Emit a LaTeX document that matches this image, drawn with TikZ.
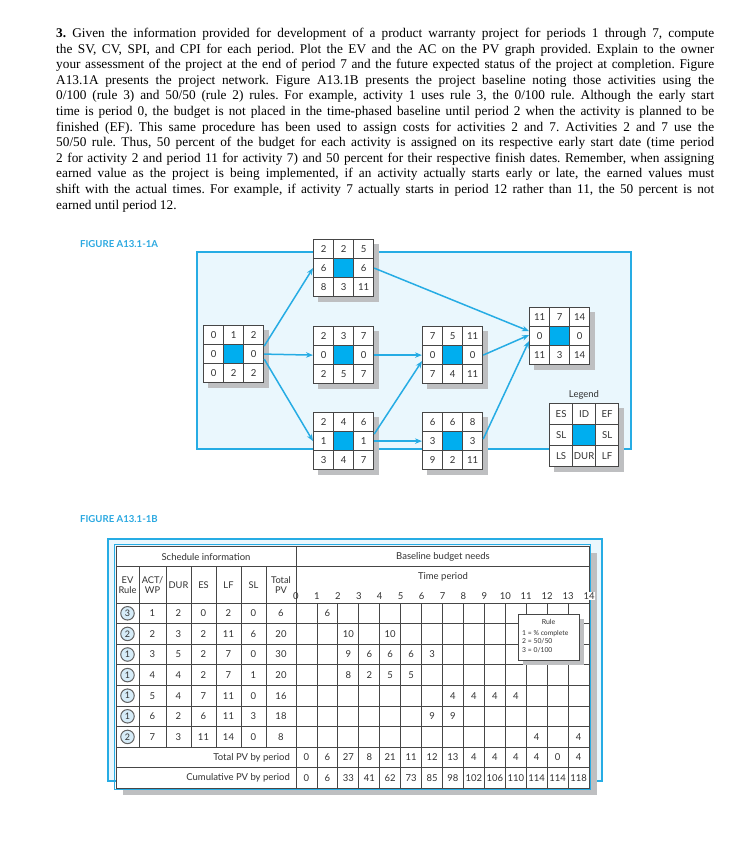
\documentclass[tikz,border=0pt]{standalone}
\usepackage{fontspec}
\setmainfont{Liberation Serif}
\newfontfamily\dg{Lato}
\usetikzlibrary{matrix,arrows.meta}
\definecolor{lblue}{RGB}{38,172,228}
\definecolor{pfill}{RGB}{234,247,253}
\definecolor{cblue}{RGB}{0,174,239}
\definecolor{shadowc}{RGB}{190,191,193}
\definecolor{gridc}{RGB}{70,70,70}
\definecolor{txt}{RGB}{50,50,50}
\definecolor{figc}{RGB}{42,168,224}
\definecolor{circfill}{RGB}{214,236,248}
\pgfdeclarelayer{back}
\pgfdeclarelayer{shade}
\pgfsetlayers{back,shade,main}
\newcommand\jl[1]{\hbox to 658pt{#1}}
\newcommand\netbox[6]{%
  \matrix (#1) [netbox] at (#2,#3) {#4\\#5\\#6\\};
  \begin{pgfonlayer}{shade}
    \fill[shadowc] ([shift={(5,5)}]#1.north west) rectangle ([shift={(5,5)}]#1.south east);
  \end{pgfonlayer}}
\begin{document}
\begin{tikzpicture}[x=1pt,y=-1pt,
  cell/.style={draw=gridc, line width=0.8pt, minimum width=20pt, minimum height=19pt,
    inner sep=0pt, fill=white, text=txt, anchor=center, font=\dg\fontsize{9.6}{10}\selectfont},
  lcell/.style={minimum width=23pt, minimum height=21pt},
  netbox/.style={matrix of nodes, inner sep=0pt, column sep=-0.8pt, row sep=-0.8pt,
    nodes={cell}, nodes in empty cells, ampersand replacement=\&, anchor=north west},
  legbox/.style={netbox, nodes={lcell}},
  mid/.style={fill=cblue},
  arr/.style={draw=lblue, line width=1.5pt, -{Stealth[length=7pt,width=5.5pt]}},
  tt/.style={font=\dg\fontsize{9.5}{10.5}\selectfont, text=txt, inner sep=0pt},
  hd/.style={tt, align=center, font=\dg\fontsize{9.3}{10.5}\selectfont},
  figlabel/.style={font=\dg\bfseries\fontsize{9.6}{11}\selectfont, text=figc, anchor=west, inner sep=0pt},
  tline/.style={draw=gridc, line width=0.8pt},
  rulec/.style={circle, draw=gridc!85, line width=1pt, fill=circfill, minimum size=13.5pt,
    inner sep=0pt, text=txt, font=\dg\fontsize{9}{10}\selectfont}]
\useasboundingbox (0,0) rectangle (751,851);

% ---------- problem text ----------
\node[anchor=north west, inner sep=0pt] (prob) at (56,28) {%
\fontsize{13.3}{15.6}\selectfont\frenchspacing
\vbox{\hsize=658pt\parindent=0pt
\jl{\textbf{3.} Given the information provided for development of a product warranty project for periods 1 through 7, compute}
\jl{the SV, CV, SPI, and CPI for each period. Plot the EV and the AC on the PV graph provided. Explain to the owner}
\jl{your assessment of the project at the end of period 7 and the future expected status of the project at completion. Figure}
\jl{A13.1A presents the project network. Figure A13.1B presents the project baseline noting those activities using the}
\jl{0/100 (rule 3) and 50/50 (rule 2) rules. For example, activity 1 uses rule 3, the 0/100 rule. Although the early start}
\jl{time is period 0, the budget is not placed in the time-phased baseline until period 2 when the activity is planned to be}
\jl{finished (EF). This same procedure has been used to assign costs for activities 2 and 7. Activities 2 and 7 use the}
\jl{50/50 rule. Thus, 50 percent of the budget for each activity is assigned on its respective early start date (time period}
\jl{2 for activity 2 and period 11 for activity 7) and 50 percent for their respective finish dates. Remember, when assigning}
\jl{earned value as the project is being implemented, if an activity actually starts early or late, the earned values must}
\jl{shift with the actual times. For example, if activity 7 actually starts in period 12 rather than 11, the 50 percent is not}
\hbox{earned until period 12.}}};

% ---------- Figure A ----------
\node[figlabel] (figA) at (80,244) {FIGURE A13.1-1A};
\begin{pgfonlayer}{back}
  \draw[lblue, line width=1.4pt, fill=pfill] (197,252) rectangle (631,449);
\end{pgfonlayer}

\netbox{b1}{203}{325}{0\&1\&2}{0\&|[mid]|\&0}{0\&2\&2}
\netbox{b2}{313}{239}{2\&2\&5}{6\&|[mid]|\&6}{8\&3\&11}
\netbox{b3}{313}{326}{2\&3\&7}{0\&|[mid]|\&0}{2\&5\&7}
\netbox{b4}{313}{412}{2\&4\&6}{1\&|[mid]|\&1}{3\&4\&7}
\netbox{b5}{422}{326}{7\&5\&11}{0\&|[mid]|\&0}{7\&4\&11}
\netbox{b6}{422}{412}{6\&6\&8}{3\&|[mid]|\&3}{9\&2\&11}
\netbox{b7}{529}{307}{11\&7\&14}{0\&|[mid]|\&0}{11\&3\&14}

\matrix (leg) [legbox] at (549,403) {ES\&ID\&EF\\SL\&|[mid]|\&SL\\LS\&DUR\&LF\\};
\begin{pgfonlayer}{shade}
  \fill[shadowc] ([shift={(5,5)}]leg.north west) rectangle ([shift={(5,5)}]leg.south east);
\end{pgfonlayer}
\node[tt] (legt) at (584,395) {Legend};

\draw[arr] ([yshift=8pt]b1.east) -- (b2.west);
\draw[arr] (b1.east) -- (b3.west);
\draw[arr] ([yshift=-5pt]b1.east) -- (b4.west);
\draw[arr] (b2.east) -- ([yshift=5pt]b7.west);
\draw[arr] (b3.east) -- (b5.west);
\draw[arr] (b5.east) -- ([yshift=1pt]b7.west);
\draw[arr] ([yshift=7pt]b4.east) -- ([yshift=-6pt]b5.west);
\draw[arr] (b4.east) -- (b6.west);
\draw[arr] ([yshift=2pt]b6.east) -- ([yshift=-5pt]b7.west);

% ---------- Figure B ----------
\node[figlabel] (figB) at (80,519) {FIGURE A13.1-1B};
\begin{pgfonlayer}{back}
  \draw[lblue, line width=1.3pt, fill=pfill] (108,539) rectangle (602,781);
\end{pgfonlayer}
\begin{pgfonlayer}{shade}
  \fill[shadowc] (123,553) rectangle (597,795);
\end{pgfonlayer}
\fill[white] (116,546) rectangle (589,788.4);
\draw[lblue, line width=0.7pt] (114.8,544.8) rectangle (590.2,789.6);
\draw[tline] (116,546) rectangle (589,788.4);
\draw[tline] (116,566) -- (589,566);
\draw[tline] (116,603) -- (589,603);
\foreach \i in {1,...,8} \draw[tline] (116,{603+20.6*\i}) -- (589,{603+20.6*\i});
\draw[tline] (296,546) -- (296,788.4);
\foreach \xx in {139,166,191,216,241,266} \draw[tline] (\xx,566) -- (\xx,747.2);
\foreach \k in {1,...,13} \draw[tline] ({296+20.93*\k},603) -- ({296+20.93*\k},788.4);

\node[tt] (schedt) at (206,557) {Schedule information};
\node[tt] (baset) at (443,557) {Baseline budget needs};
\node[tt] (timet) at (443,577) {Time period};
\foreach \k in {0,...,13} \node[tt] (per\k) at ({296+20.93*\k},596) {\k};
\node[tt, fill=white, inner sep=0.6pt] (per14) at ({296+20.93*14},596) {14};

\node[hd] (h1) at (127.5,585) {EV\\Rule};
\node[hd] (h2) at (152.5,585) {ACT/\\WP};
\node[hd] (h3) at (178.5,585) {DUR};
\node[hd] (h4) at (203.5,585) {ES};
\node[hd] (h5) at (228.5,585) {LF};
\node[hd] (h6) at (253.5,585) {SL};
\node[hd] (h7) at (281,585) {Total\\PV};

\foreach \r/\ru/\a/\b/\c/\d/\e/\f in {1/3/1/2/0/2/0/6, 2/2/2/3/2/11/6/20, 3/1/3/5/2/7/0/30,
   4/1/4/4/2/7/1/20, 5/1/5/4/7/11/0/16, 6/1/6/2/6/11/3/18, 7/2/7/3/11/14/0/8} {
  \node[rulec] (ru\r) at (127.5,{603+20.6*(\r-0.5)}) {\ru};
  \node[tt] (sa\r) at (152.5,{603+20.6*(\r-0.5)}) {\a};
  \node[tt] (sb\r) at (178.5,{603+20.6*(\r-0.5)}) {\b};
  \node[tt] (sc\r) at (203.5,{603+20.6*(\r-0.5)}) {\c};
  \node[tt] (sd\r) at (228.5,{603+20.6*(\r-0.5)}) {\d};
  \node[tt] (se\r) at (253.5,{603+20.6*(\r-0.5)}) {\e};
  \node[tt] (sf\r) at (281,{603+20.6*(\r-0.5)}) {\f};
}

\foreach \r/\p/\v in {1/2/6, 2/3/10, 2/5/10, 3/3/9, 3/4/6, 3/5/6, 3/6/6, 3/7/3,
   4/3/8, 4/4/2, 4/5/5, 4/6/5, 5/8/4, 5/9/4, 5/10/4, 5/11/4, 6/7/9, 6/8/9, 7/12/4, 7/14/4}
  \node[tt] (v\r-\p) at ({296+20.93*(\p-0.5)},{603+20.6*(\r-0.5)}) {\v};

\node[tt, anchor=east] (totl) at (290,{603+20.6*7.5}) {Total PV by period};
\node[tt, anchor=east] (cuml) at (290,{603+20.6*8.5}) {Cumulative PV by period};
\foreach \v [count=\p] in {0,6,27,8,21,11,12,13,4,4,4,4,0,4}
  \node[tt] (t\p) at ({296+20.93*(\p-0.5)},{603+20.6*7.5}) {\v};
\foreach \v [count=\p] in {0,6,33,41,62,73,85,98,102,106,110,114,114,118}
  \node[tt] (c\p) at ({296+20.93*(\p-0.5)},{603+20.6*8.5}) {\v};

% rule box
\fill[shadowc] (523,619) rectangle (584,665);
\draw[gridc, line width=0.8pt, fill=white] (518,614) rectangle (579,660);
\node[tt, font=\dg\fontsize{7}{8}\selectfont] (rulet) at (548.5,622) {Rule};
\node[tt, font=\dg\fontsize{6.8}{8.4}\selectfont, align=left, anchor=north west] (rulel) at (522,630)
  {1 = \% complete\\2 = 50/50\\3 = 0/100};
\end{tikzpicture}
\end{document}
